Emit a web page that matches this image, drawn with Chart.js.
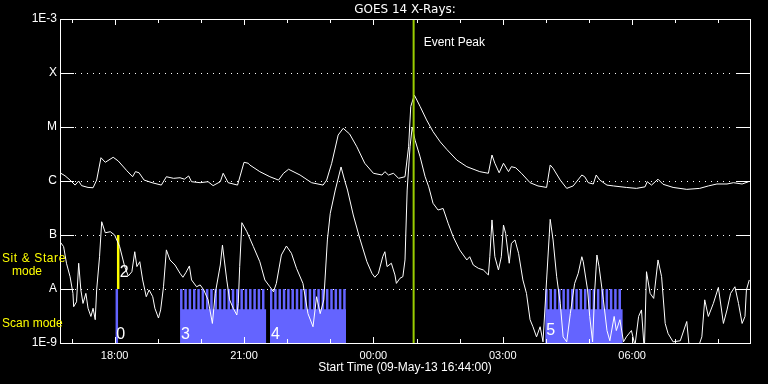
<!DOCTYPE html>
<html>
<head>
<meta charset="utf-8">
<script src="https://cdn.jsdelivr.net/npm/chart.js@4/dist/chart.umd.min.js"></script>
<style>
  html, body { margin: 0; padding: 0; background: #000; }
  canvas { display: block; }
</style>
</head>
<body>
<canvas id="goes" width="768" height="384"></canvas>
<script>
// GOES 14 X-ray flux, 09-May-13 16:44 to 10-May-13 08:44
const startTime = '16:44'
const endTime = '08:44'
const peakTime = '00:56'

const yLevels = [1e-9, 1e-8, 1e-7, 1e-6, 1e-5, 1e-4, 1e-3]
const yLabels = ['1E-9', 'A', 'B', 'C', 'M', 'X', '1E-3']
const xTickTimes = ['18:00', '21:00', '00:00', '03:00', '06:00']

// 1-8 A channel
const longTimes = [
  '16:44', '16:51', '16:58', '17:05', '17:10', '17:14', '17:23', '17:30', '17:35', '17:41',
  '17:47', '17:58', '18:05', '18:17', '18:25', '18:29', '18:34', '18:41', '18:52', '19:05',
  '19:12', '19:22', '19:31', '19:37', '19:43', '19:47', '19:59', '20:10', '20:17', '20:27',
  '20:31', '20:38', '20:51', '20:55', '21:00', '21:06', '21:08', '21:22', '21:36', '21:48',
  '21:55', '22:02', '22:18', '22:34', '22:50', '22:55', '23:02', '23:11', '23:18', '23:27',
  '23:37', '23:48', '00:00', '00:12', '00:16', '00:21', '00:28', '00:35', '00:44', '00:49',
  '00:52', '00:57', '01:05', '01:14', '01:23', '01:33', '01:42', '01:56', '02:10', '02:28',
  '02:40', '02:45', '02:49', '02:55', '03:01', '03:08', '03:12', '03:18', '03:26', '03:38',
  '03:49', '04:01', '04:06', '04:10', '04:20', '04:29', '04:38', '04:50', '04:54', '04:59',
  '05:06', '05:10', '05:15', '05:25', '05:34', '05:52', '06:06', '06:18', '06:21', '06:27',
  '06:36', '06:43', '06:57', '07:16', '07:34', '07:46', '07:58', '08:12', '08:21', '08:33',
  '08:42',
]
const longFlux = [
  1.42e-6, 1.25e-6, 1.04e-6, 8.4e-7, 1.0e-6, 8.2e-7, 7.6e-7, 7.5e-7, 1.04e-6, 2.7e-6,
  2.22e-6, 2.75e-6, 2.35e-6, 1.55e-6, 1.2e-6, 1.49e-6, 1.42e-6, 1.04e-6, 9.3e-7, 8.4e-7,
  1.2e-6, 1.12e-6, 1.15e-6, 1.08e-6, 1.24e-6, 9.7e-7, 9.3e-7, 9.7e-7, 8.2e-7, 9.7e-7,
  1.39e-6, 9.3e-7, 8.4e-7, 1.29e-6, 2.22e-6, 2.13e-6, 1.98e-6, 1.49e-6, 1.2e-6, 1.04e-6,
  1.39e-6, 1.65e-6, 1.29e-6, 9.3e-7, 8.4e-7, 1.04e-6, 2.13e-6, 7.1e-6, 9.45e-6, 7.4e-6,
  4.3e-6, 2.13e-6, 1.39e-6, 1.29e-6, 1.49e-6, 1.29e-6, 1.39e-6, 1.12e-6, 1.2e-6, 4.3e-6,
  2.4e-5, 3.9e-5, 2.4e-5, 1.35e-5, 8.2e-6, 5.3e-6, 3.86e-6, 2.45e-6, 1.84e-6, 1.49e-6,
  1.39e-6, 3.03e-6, 2.13e-6, 1.42e-6, 2.13e-6, 1.49e-6, 1.84e-6, 1.76e-6, 1.39e-6, 9.3e-7,
  8.1e-7, 7.6e-7, 1.98e-6, 1.72e-6, 1.04e-6, 7.3e-7, 8.1e-7, 1.29e-6, 1.2e-6, 9.3e-7,
  8.8e-7, 1.29e-6, 1.04e-6, 8.4e-7, 8.1e-7, 7.6e-7, 7.3e-7, 7.8e-7, 9.7e-7, 8.4e-7,
  1.08e-6, 8.7e-7, 7.6e-7, 7.0e-7, 7.3e-7, 8.1e-7, 8.8e-7, 8.8e-7, 9.3e-7, 8.8e-7,
  9.7e-7,
]

// 0.5-4 A channel
const shortTimes = [
  '16:44', '16:49', '16:53', '16:58', '17:02', '17:03', '17:07', '17:10', '17:13', '17:16',
  '17:20', '17:23', '17:27', '17:30', '17:33', '17:35', '17:39', '17:42', '17:47', '17:54',
  '18:00', '18:07', '18:14', '18:19', '18:24', '18:28', '18:31', '18:35', '18:39', '18:44',
  '18:48', '18:53', '18:56', '19:01', '19:04', '19:08', '19:12', '19:17', '19:24', '19:31',
  '19:35', '19:39', '19:44', '19:47', '19:54', '19:59', '20:04', '20:10', '20:16', '20:20',
  '20:27', '20:30', '20:36', '20:40', '20:45', '20:50', '20:52', '20:54', '20:57', '21:04',
  '21:13', '21:22', '21:29', '21:36', '21:41', '21:45', '21:52', '21:59', '22:06', '22:13',
  '22:22', '22:29', '22:36', '22:41', '22:46', '22:51', '22:56', '23:00', '23:07', '23:15',
  '23:20', '23:24', '23:32', '23:41', '23:51', '23:58', '00:02', '00:07', '00:13', '00:16',
  '00:19', '00:25', '00:30', '00:32', '00:37', '00:41', '00:44', '00:47', '00:51', '00:54',
  '00:58', '01:05', '01:12', '01:17', '01:23', '01:30', '01:37', '01:44', '01:51', '02:00',
  '02:10', '02:14', '02:19', '02:26', '02:33', '02:40', '02:42', '02:45', '02:49', '02:54',
  '02:58', '03:01', '03:04', '03:09', '03:12', '03:17', '03:22', '03:28', '03:33', '03:38',
  '03:42', '03:47', '03:52', '03:56', '04:01', '04:06', '04:10', '04:15', '04:20', '04:24',
  '04:29', '04:34', '04:40', '04:45', '04:50', '04:52', '04:58', '05:01', '05:05', '05:08',
  '05:11', '05:14', '05:20', '05:25', '05:29', '05:35', '05:38', '05:43', '05:48', '05:52',
  '05:59', '06:04', '06:09', '06:13', '06:17', '06:20', '06:25', '06:30', '06:36', '06:41',
  '06:46', '06:50', '06:57', '07:07', '07:16', '07:20', '07:30', '07:37', '07:41', '07:46',
  '07:53', '08:00', '08:07', '08:12', '08:17', '08:23', '08:28', '08:33', '08:37', '08:39',
  '08:43',
]
const shortFlux = [
  7.5e-8, 6.1e-8, 3.0e-8, 1.69e-8, 8.3e-9, 4.7e-9, 5.8e-9, 3.0e-8, 9.6e-9, 5.4e-9,
  8.3e-9, 4.4e-9, 3.1e-9, 4.4e-9, 2.7e-9, 9.6e-9, 3.96e-8, 1.76e-7, 1.1e-7, 1.15e-7,
  1.0e-7, 6.1e-8, 2.6e-8, 1.74e-8, 2.09e-8, 4.9e-8, 2.6e-8, 3.2e-8, 1.47e-8, 7.2e-9,
  9.6e-9, 7.2e-9, 4.4e-9, 2.9e-9, 4.1e-9, 1.1e-8, 5.3e-8, 3.45e-8, 2.78e-8, 1.95e-8,
  1.65e-8, 2.0e-8, 2.67e-8, 1.47e-8, 1.1e-8, 1.19e-8, 9.6e-9, 6.3e-9, 2.3e-9, 8.3e-9,
  2.78e-8, 6.5e-8, 1.47e-8, 6.3e-9, 4.4e-9, 3.3e-9, 5.4e-9, 2.6e-8, 1.69e-7, 1.15e-7,
  6.1e-8, 3.2e-8, 1.47e-8, 1.1e-8, 8.9e-9, 1.27e-8, 4.26e-8, 6.25e-8, 4.58e-8, 2.42e-8,
  1.27e-8, 3.5e-9, 2.0e-9, 7.2e-9, 3.5e-9, 6.3e-9, 8.1e-8, 2.52e-7, 6.8e-7, 1.82e-6,
  1.03e-6, 6.8e-7, 2.35e-7, 8.7e-8, 3.2e-8, 1.95e-8, 1.65e-8, 1.95e-8, 3.96e-8, 4.9e-8,
  2.6e-8, 3.0e-8, 1.82e-8, 1.27e-8, 1.58e-8, 1.69e-8, 3.45e-8, 6.8e-7, 4.3e-6, 1.0e-5,
  5.7e-6, 2.8e-6, 1.2e-6, 7.8e-7, 3.86e-7, 2.9e-7, 3.1e-7, 1.65e-7, 9.3e-8, 5.3e-8,
  3.45e-8, 3.96e-8, 2.78e-8, 2.42e-8, 2.25e-8, 1.82e-8, 3.96e-8, 1.9e-7, 3.96e-8, 2.25e-8,
  3.96e-8, 1.53e-7, 1.07e-7, 3.0e-8, 7.0e-8, 8.1e-8, 4.58e-8, 1.47e-8, 8.3e-9, 2.7e-9,
  2.0e-9, 1.3e-9, 2.0e-9, 1.05e-9, 1.47e-8, 1.95e-7, 8.1e-8, 1.69e-8, 5.4e-9, 1.3e-9,
  1.05e-9, 3.5e-9, 1.27e-8, 1.95e-8, 3.96e-8, 3.2e-8, 9.6e-9, 3.1e-9, 1.05e-9, 9.6e-9,
  4.26e-8, 2.6e-8, 6.3e-9, 1.7e-9, 1.1e-9, 3.1e-9, 1.7e-9, 2.7e-9, 1.05e-9, 1.3e-9,
  1.7e-9, 9e-10, 3.1e-9, 4.1e-9, 7e-10, 2.09e-8, 8.3e-9, 6.7e-9, 3.45e-8, 1.69e-8,
  2.3e-9, 1.5e-9, 1.05e-9, 1.1e-9, 2.5e-9, 7e-10, 7e-10, 1.3e-9, 6.3e-9, 3.1e-9,
  5.4e-9, 1.07e-8, 2.3e-9, 4.1e-9, 8.3e-9, 1.1e-8, 5.4e-9, 2.3e-9, 3.1e-9, 9.6e-9,
  1.47e-8,
]

// observing modes timeline
const scanOnly = ['18:01', '18:05']
const sitStare = ['18:03', '18:07']
const scanBlocks = [['19:31', '21:31'], ['21:36', '23:22'], ['03:59', '05:47']]
const scanTeeth = [
  ['19:31', '19:37', '19:43', '19:49', '19:55', '20:01', '20:07', '20:13', '20:19', '20:25',
   '20:31', '20:37', '20:43', '20:49', '20:55', '21:01', '21:07', '21:13', '21:19', '21:25'],
  ['21:36', '21:42', '21:48', '21:54', '22:00', '22:06', '22:12', '22:18', '22:24', '22:30',
   '22:36', '22:42', '22:48', '22:54', '23:00', '23:06', '23:12', '23:18'],
  ['03:59', '04:05', '04:11', '04:17', '04:23', '04:29', '04:35', '04:41', '04:47', '04:53',
   '04:59', '05:05', '05:11', '05:17', '05:23', '05:29', '05:35', '05:41'],
]
const scanLabels = ['3', '4', '5']
const toothMinutes = 3.5
const scanTop = 1e-8
const scanBase = 4.2e-9

const BLUE = '#6464ff'
const CLEAR = 'rgba(0,0,0,0)'

// minutes since 09-May 00:00, morning hours belong to the next day
const toMin = (s) => {
  const [h, m] = s.split(':').map(Number)
  return h * 60 + m + (h < 12 ? 1440 : 0)
}
const series = (times, flux) => times.map((t, i) => ({ x: toMin(t), y: flux[i] }))

const scanData = scanBlocks.map(([s, e], b) => {
  const pts = [{ x: toMin(s), y: scanBase }]
  scanTeeth[b].forEach((t) => {
    pts.push({ x: toMin(t), y: scanTop }, { x: toMin(t) + toothMinutes, y: scanBase })
  })
  pts.push({ x: toMin(e), y: scanBase })
  return pts
})

const overlay = {
  id: 'goesOverlay',
  beforeDatasetsDraw(chart) {
    const { ctx, chartArea: a, scales: { y } } = chart
    ctx.save()
    ctx.strokeStyle = '#fff'
    ctx.lineWidth = 1
    ctx.setLineDash([1, 5])
    yLevels.slice(1, -1).forEach((v) => {
      const py = Math.round(y.getPixelForValue(v)) + 0.5
      ctx.beginPath()
      ctx.moveTo(a.left + 15, py)
      ctx.lineTo(a.right - 15, py)
      ctx.stroke()
    })
    ctx.restore()
  },
  afterDatasetsDraw(chart) {
    const { ctx, chartArea: a, scales: { x, y } } = chart
    ctx.save()
    ctx.strokeStyle = '#fff'
    ctx.lineWidth = 1
    ctx.strokeRect(a.left + 0.5, a.top + 0.5, a.right - a.left, a.bottom - a.top)

    // inward hour ticks, longer at labelled hours
    const major = xTickTimes.map(toMin)
    ctx.beginPath()
    for (let v = Math.ceil(x.min / 60) * 60; v <= x.max; v += 60) {
      const px = Math.round(x.getPixelForValue(v)) + 0.5
      const len = major.includes(v) ? 6 : 4
      ctx.moveTo(px, a.top); ctx.lineTo(px, a.top + len)
      ctx.moveTo(px, a.bottom); ctx.lineTo(px, a.bottom - len)
    }
    yLevels.slice(1, -1).forEach((v) => {
      const py = Math.round(y.getPixelForValue(v)) + 0.5
      ctx.moveTo(a.left, py); ctx.lineTo(a.left + 14, py)
      ctx.moveTo(a.right - 14, py); ctx.lineTo(a.right, py)
    })
    ctx.stroke()

    ctx.fillStyle = '#fff'
    ctx.textBaseline = 'middle'
    ctx.textAlign = 'center'
    ctx.font = "12px 'DejaVu Sans'"
    ctx.fillText('GOES 14 X-Rays:', (a.left + a.right) / 2, 10)

    ctx.textAlign = 'left'
    ctx.font = "12px 'Liberation Sans'"
    ctx.fillText('Event Peak', x.getPixelForValue(toMin(peakTime)) + 10, a.top + 24)

    // mode numbers
    ctx.textBaseline = 'alphabetic'
    ctx.font = "16px 'Liberation Sans'"
    ctx.fillText('0', x.getPixelForValue(toMin(scanOnly[0])) + 1, 339)
    ctx.fillText('2', x.getPixelForValue(toMin(sitStare[0])) + 3, 277)
    const labelBase = [339, 338.5, 335]
    scanBlocks.forEach(([s], i) => {
      ctx.fillText(scanLabels[i], x.getPixelForValue(toMin(s)) + 1, labelBase[i])
    })

    ctx.fillStyle = '#ffff00'
    ctx.font = "12px 'Liberation Sans'"
    ctx.letterSpacing = '0.6px'
    ctx.fillText('Sit & Stare', 2, 262)
    ctx.letterSpacing = '0px'
    ctx.fillText('mode', 12, 275)
    ctx.fillText('Scan mode', 2, 327)
    ctx.restore()
  },
}

Chart.defaults.font.family = "'Liberation Sans', Arial, sans-serif"

new Chart(document.getElementById('goes'), {
  type: 'line',
  data: {
    datasets: [
      {
        label: 'Event Peak',
        data: [{ x: toMin(peakTime), y: yLevels[0] }, { x: toMin(peakTime), y: yLevels[6] }],
        borderColor: '#99cc00',
        borderWidth: 2,
        order: 0,
      },
      { label: '1-8 A', data: series(longTimes, longFlux), borderColor: '#fff', borderWidth: 1, order: 1 },
      { label: '0.5-4 A', data: series(shortTimes, shortFlux), borderColor: '#fff', borderWidth: 1, order: 1 },
      {
        label: 'Sit & Stare',
        data: [{ x: toMin(sitStare[0]), y: 1e-7 }, { x: toMin(sitStare[1]), y: 1e-7 }],
        borderColor: CLEAR,
        backgroundColor: '#ffff00',
        fill: { value: scanTop },
        order: 2,
      },
      {
        label: 'Scan 0',
        data: [{ x: toMin(scanOnly[0]), y: scanTop }, { x: toMin(scanOnly[1]), y: scanTop }],
        borderColor: CLEAR,
        backgroundColor: BLUE,
        fill: 'start',
        order: 2,
      },
      ...scanData.map((d, i) => ({
        label: 'Scan ' + scanLabels[i],
        data: d,
        stepped: 'before',
        borderColor: CLEAR,
        backgroundColor: BLUE,
        fill: 'start',
        order: 2,
      })),
    ],
  },
  options: {
    responsive: false,
    animation: false,
    events: [],
    layout: { padding: { top: 19, right: 18, left: 0, bottom: 0 } },
    elements: { point: { radius: 0 }, line: { tension: 0 } },
    plugins: { legend: { display: false }, tooltip: { enabled: false } },
    scales: {
      x: {
        type: 'linear',
        min: toMin(startTime),
        max: toMin(endTime),
        grid: { display: false, drawTicks: false },
        border: { display: false },
        afterBuildTicks: (s) => { s.ticks = xTickTimes.map((t) => ({ value: toMin(t) })) },
        afterFit: (s) => { s.height = 41 },
        ticks: {
          color: '#fff',
          padding: 6,
          autoSkip: false,
          maxRotation: 0,
          font: { size: 11 },
          callback: (v, i) => xTickTimes[i],
        },
        title: {
          display: true,
          text: 'Start Time (09-May-13 16:44:00)',
          color: '#fff',
          font: { size: 12 },
          padding: { top: 0, bottom: 9 },
        },
      },
      y: {
        type: 'logarithmic',
        min: yLevels[0],
        max: yLevels[6],
        grid: { display: false, drawTicks: false },
        border: { display: false },
        afterBuildTicks: (s) => { s.ticks = yLevels.map((v) => ({ value: v })) },
        afterFit: (s) => { s.width = 60 },
        ticks: {
          color: '#fff',
          padding: 3,
          font: { size: 12 },
          callback: (v, i) => yLabels[i],
        },
      },
    },
  },
  plugins: [overlay],
})
</script>
</body>
</html>
